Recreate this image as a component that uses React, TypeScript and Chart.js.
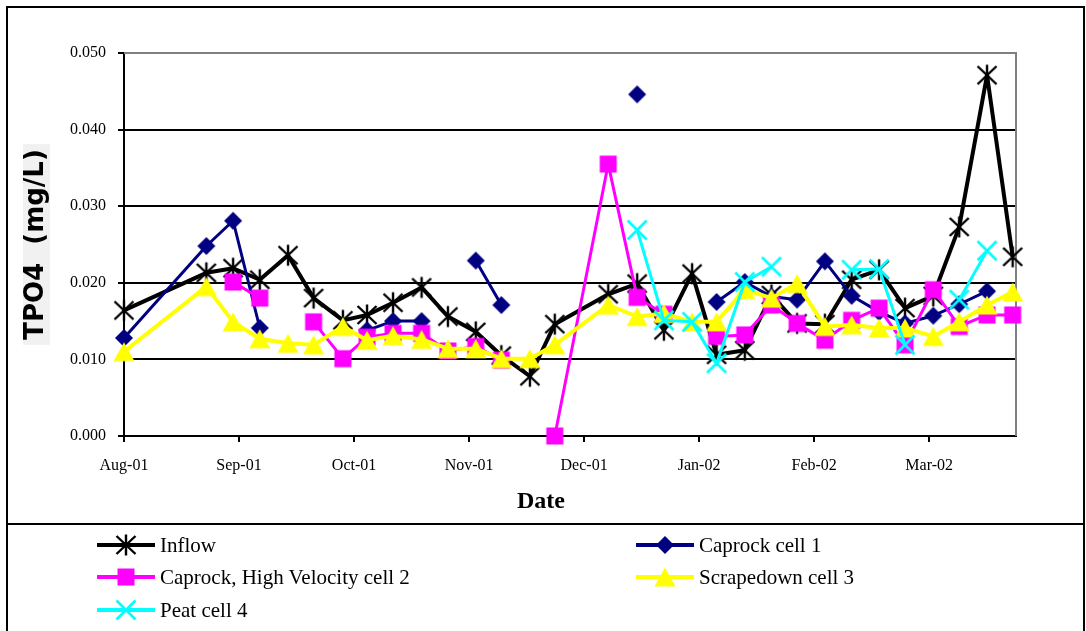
import React, { useEffect, useRef } from 'react';
import { Chart, registerables } from 'chart.js';

Chart.register(...registerables);

// ---- data (x = days after 1 Aug 2001) ----
const sampleDays = [0, 22.2, 29.4, 36.6, 44.2, 51.1, 59.0, 65.5, 72.5, 80.2, 87.3, 94.8, 101.7, 109.4, 116.1, 130.5, 138.3, 145.5, 153.1, 159.7, 167.3, 174.5, 181.4, 188.9, 196.1, 203.5, 210.5, 218.1, 225.1, 232.6, 239.5];

const inflow = [0.0164, 0.0213, 0.0219, 0.0204, 0.0236, 0.0180, 0.0151, 0.0158, 0.0174, 0.0194, 0.0156, 0.0136, 0.0105, 0.0078, 0.0146, 0.0185, 0.0199, 0.0138, 0.0212, 0.0106, 0.0112, 0.0184, 0.0147, 0.0146, 0.0204, 0.0217, 0.0167, 0.0183, 0.0273, 0.0471, 0.0234];

const caprockCell1 = [0.0128, 0.0248, 0.0281, 0.0141, null, null, null, 0.0138, 0.0150, 0.0150, null, 0.0229, 0.0171, null, null, null, 0.0446, null, null, 0.0175, 0.0201, 0.0182, 0.0178, 0.0228, 0.0183, 0.0162, 0.0147, 0.0157, 0.0172, 0.0189, null];

const caprockHighVelocityCell2 = [null, null, 0.0201, 0.0180, null, 0.0149, 0.0101, 0.0129, 0.0134, 0.0134, 0.0111, 0.0117, 0.0099, null, 0.0000, 0.0355, 0.0181, 0.0159, null, 0.0130, 0.0132, 0.0171, 0.0147, 0.0125, 0.0151, 0.0167, 0.0119, 0.0191, 0.0143, 0.0158, 0.0158];

const scrapedownCell3 = [0.0110, 0.0195, 0.0149, 0.0127, 0.0121, 0.0119, 0.0143, 0.0125, 0.0131, 0.0126, 0.0114, 0.0114, 0.0101, 0.0101, 0.0119, 0.0171, 0.0156, 0.0160, 0.0149, 0.0149, 0.0191, 0.0180, 0.0199, 0.0143, 0.0145, 0.0141, 0.0141, 0.0130, 0.0149, 0.0171, 0.0188];

const peatCell4 = [null, null, null, null, null, null, null, null, null, null, null, null, null, null, null, null, 0.0269, 0.0151, 0.0149, 0.0095, 0.0201, 0.0221, null, null, 0.0217, 0.0218, 0.0119, null, 0.0178, 0.0242, null];

const monthLabels = ['Aug-01', 'Sep-01', 'Oct-01', 'Nov-01', 'Dec-01', 'Jan-02', 'Feb-02', 'Mar-02'];
const monthStepDays = 31;
const xMaxDays = 240.4;
const yMax = 0.05;
const yStep = 0.01;

const seriesNames = ['Inflow', 'Caprock cell 1', 'Caprock, High Velocity cell 2', 'Scrapedown cell 3', 'Peat cell 4'];
const seriesValues = [inflow, caprockCell1, caprockHighVelocityCell2, scrapedownCell3, peatCell4];

const xTitle = 'Date';
const yTitle = 'TPO4  (mg/L)';

// ---- styles ----
const seriesStyle = [
  { color: '#000000', width: 4, marker: 'star' },
  { color: '#000080', width: 3, marker: 'diamond' },
  { color: '#FF00FF', width: 3, marker: 'square' },
  { color: '#FFFF00', width: 4, marker: 'triangle' },
  { color: '#00FFFF', width: 3, marker: 'x' },
];

const SERIF = "'Liberation Serif', 'Times New Roman', serif";

function drawMarker(g: CanvasRenderingContext2D, kind: string, color: string, cx: number, cy: number) {
  g.fillStyle = color;
  g.strokeStyle = color;
  g.lineCap = 'butt';
  if (kind === 'star') {
    g.lineWidth = 2.4;
    g.beginPath();
    g.moveTo(cx - 9.5, cy - 9); g.lineTo(cx + 9.5, cy + 9);
    g.moveTo(cx + 9.5, cy - 9); g.lineTo(cx - 9.5, cy + 9);
    g.moveTo(cx, cy - 10.5); g.lineTo(cx, cy + 10.5);
    g.stroke();
  } else if (kind === 'diamond') {
    g.beginPath();
    g.moveTo(cx, cy - 9); g.lineTo(cx + 9, cy); g.lineTo(cx, cy + 9); g.lineTo(cx - 9, cy);
    g.closePath();
    g.fill();
  } else if (kind === 'square') {
    g.fillRect(cx - 8.5, cy - 8.5, 17, 17);
  } else if (kind === 'triangle') {
    g.beginPath();
    g.moveTo(cx, cy - 9.5); g.lineTo(cx + 10.5, cy + 9.5); g.lineTo(cx - 10.5, cy + 9.5);
    g.closePath();
    g.fill();
  } else if (kind === 'x') {
    g.lineWidth = 2.6;
    g.beginPath();
    g.moveTo(cx - 9.5, cy - 9.5); g.lineTo(cx + 9.5, cy + 9.5);
    g.moveTo(cx + 9.5, cy - 9.5); g.lineTo(cx - 9.5, cy + 9.5);
    g.stroke();
  }
}

function makeMarkerCanvas(kind: string, color: string): HTMLCanvasElement {
  const c = document.createElement('canvas');
  c.width = 26; c.height = 26;
  const g = c.getContext('2d')!;
  drawMarker(g, kind, color, 13, 13);
  return c;
}

const frameAndTitleBg = {
  id: 'frameAndTitleBg',
  beforeDraw(chart: any) {
    const { ctx } = chart;
    const ys = chart.scales.y;
    const t = ys.options.title;
    const cy = (ys.top + ys.bottom) / 2;
    ctx.save();
    ctx.font = `bold ${t.font.size}px ${t.font.family}`;
    const w = ctx.measureText(t.text).width;
    ctx.fillStyle = '#f1f1f1';
    ctx.fillRect(23, cy - w / 2 - 5, 27, w + 10);
    ctx.restore();
  },
  beforeDatasetsDraw(chart: any) {
    const { ctx, chartArea: a } = chart;
    ctx.save();
    ctx.strokeStyle = '#808080';
    ctx.lineWidth = 2;
    ctx.beginPath();
    ctx.moveTo(a.left, a.top);
    ctx.lineTo(a.right, a.top);
    ctx.lineTo(a.right, a.bottom);
    ctx.stroke();
    ctx.restore();
  },
};

function LegendSample({ kind, color }: { kind: string; color: string }) {
  const ref = (el: HTMLCanvasElement | null) => {
    if (!el) return;
    const g = el.getContext('2d')!;
    g.clearRect(0, 0, el.width, el.height);
    g.strokeStyle = color;
    g.lineWidth = 4;
    g.beginPath();
    g.moveTo(0, 12); g.lineTo(58, 12);
    g.stroke();
    drawMarker(g, kind, color, 29, 12);
  };
  return <canvas ref={ref} width={58} height={24} style={{ display: 'block' }} />;
}

const legendSlots = [
  { left: 97, top: 545 },
  { left: 636, top: 545 },
  { left: 97, top: 577 },
  { left: 636, top: 577 },
  { left: 97, top: 610 },
];

export default function App() {
  const canvasRef = useRef<HTMLCanvasElement | null>(null);

  useEffect(() => {
    const canvas = canvasRef.current;
    if (!canvas) return;
    const markers = seriesStyle.map((s) => makeMarkerCanvas(s.marker, s.color));
    const chart = new Chart(canvas, {
      type: 'line',
      data: {
        datasets: seriesNames.map((name, i) => ({
          label: name,
          data: sampleDays.map((d, j) => ({ x: d, y: seriesValues[i][j] })),
          borderColor: seriesStyle[i].color,
          backgroundColor: seriesStyle[i].color,
          borderWidth: seriesStyle[i].width,
          borderJoinStyle: 'round',
          pointStyle: markers[i],
          pointRadius: 10,
          pointHoverRadius: 10,
          tension: 0,
          spanGaps: false,
          clip: false,
          order: seriesNames.length - i,
        })) as any,
      },
      options: {
        responsive: false,
        animation: false,
        events: [],
        layout: { padding: { left: 0, top: 53, right: 70, bottom: 0 } },
        plugins: { legend: { display: false }, tooltip: { enabled: false } },
        font: { family: SERIF },
        scales: {
          x: {
            type: 'linear',
            min: 0,
            max: xMaxDays,
            afterFit: (s: any) => { s.height = 88; },
            ticks: {
              stepSize: monthStepDays,
              includeBounds: false,
              autoSkip: false,
              maxRotation: 0,
              padding: 14,
              color: '#000',
              font: { family: SERIF, size: 16 },
              callback: (v: any) => monthLabels[Math.round(Number(v) / monthStepDays)] ?? '',
            },
            grid: { drawOnChartArea: false, drawTicks: true, tickLength: 6, tickColor: '#000', tickWidth: 2, lineWidth: 2, color: '#000' },
            border: { display: true, color: '#000', width: 2 },
            title: { display: false },
          },
          y: {
            min: 0,
            max: yMax,
            afterFit: (s: any) => { s.width = 124; },
            ticks: {
              stepSize: yStep,
              padding: 12,
              color: '#000',
              font: { family: SERIF, size: 16 },
              callback: (v: any) => Number(v).toFixed(3),
            },
            grid: {
              color: (c: any) => (c.tick && Math.abs(c.tick.value - yMax) < 1e-9 ? 'rgba(0,0,0,0)' : '#000'),
              lineWidth: 2,
              tickLength: 6,
              tickColor: '#000',
              tickWidth: 2,
            },
            border: { display: true, color: '#000', width: 2 },
            title: { display: true, text: yTitle, color: '#000', font: { family: 'DejaVu Sans', size: 26, weight: 'bold', lineHeight: 1 }, padding: { top: 23.5, bottom: 0 } },
          },
        },
      } as any,
      plugins: [frameAndTitleBg],
    });
    return () => chart.destroy();
  }, []);

  return (
    <div style={{ position: 'absolute', left: 0, top: 0, width: 1086, height: 631, overflow: 'hidden', background: '#fff' }}>
      <canvas ref={canvasRef} width={1086} height={524} style={{ position: 'absolute', left: 0, top: 0 }} />
      <div style={{ position: 'absolute', left: 0, top: 486, width: 1082, textAlign: 'center', fontFamily: SERIF, fontWeight: 'bold', fontSize: 24, lineHeight: '28px', color: '#000' }}>{xTitle}</div>
      <div style={{ position: 'absolute', left: 6, top: 6, width: 1079, height: 519, border: '2px solid #000', boxSizing: 'border-box', pointerEvents: 'none' }} />
      <div style={{ position: 'absolute', left: 6, top: 523, width: 1079, height: 120, border: '2px solid #000', boxSizing: 'border-box' }} />
      {seriesNames.map((name, i) => (
        <div key={name} style={{ position: 'absolute', left: legendSlots[i].left, top: legendSlots[i].top - 12, height: 24, display: 'flex', alignItems: 'center', whiteSpace: 'nowrap' }}>
          <LegendSample kind={seriesStyle[i].marker} color={seriesStyle[i].color} />
          <span style={{ marginLeft: 5, fontFamily: SERIF, fontSize: 21, lineHeight: '24px', color: '#000' }}>{name}</span>
        </div>
      ))}
    </div>
  );
}
